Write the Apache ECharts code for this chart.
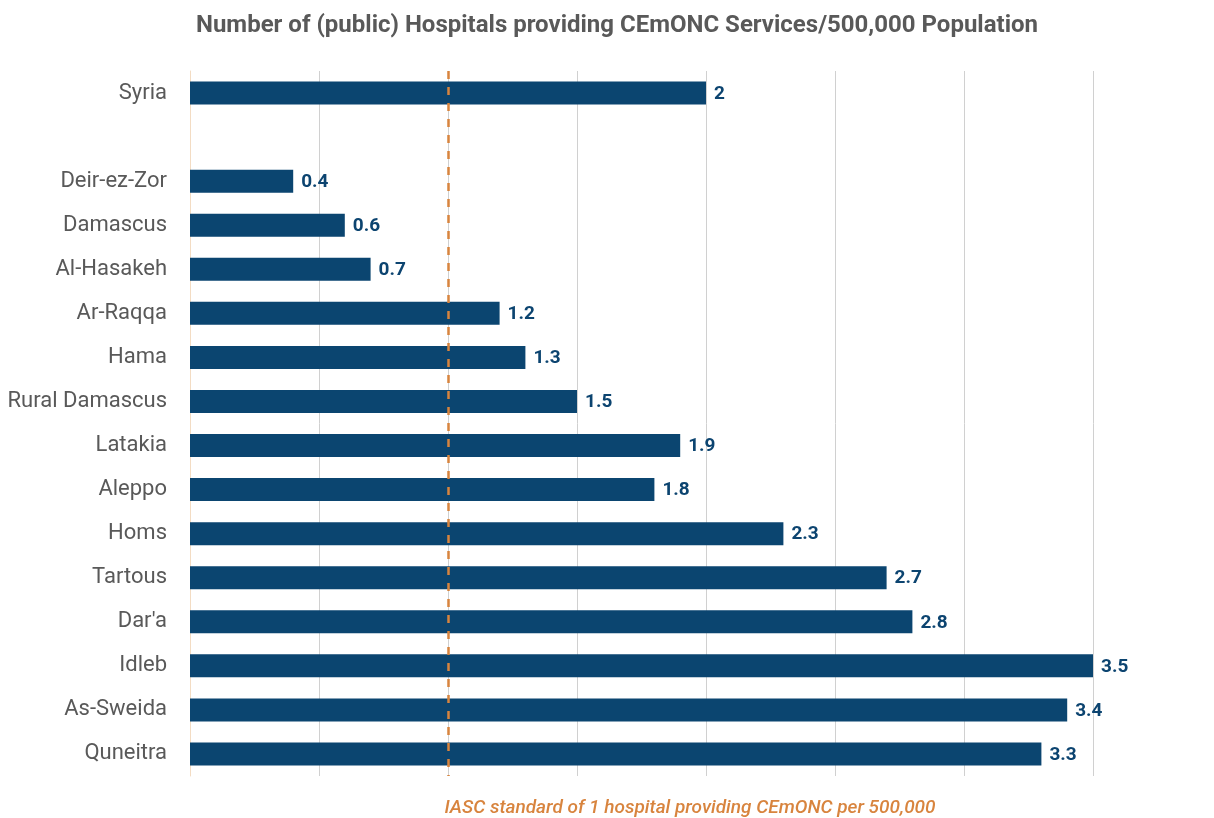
<!DOCTYPE html>
<html>
<head>
<meta charset="utf-8">
<script src="https://cdn.jsdelivr.net/npm/echarts@6/dist/echarts.min.js"></script>
<style>
html,body{margin:0;padding:0;background:#fff;}
#chart{width:1214px;height:818px;}
</style>
</head>
<body>
<div id="chart"></div>
<script>
var categories = ['Syria', '', 'Deir-ez-Zor', 'Damascus', 'Al-Hasakeh', 'Ar-Raqqa', 'Hama', 'Rural Damascus', 'Latakia', 'Aleppo', 'Homs', 'Tartous', "Dar'a", 'Idleb', 'As-Sweida', 'Quneitra'];
var values = [2, null, 0.4, 0.6, 0.7, 1.2, 1.3, 1.5, 1.9, 1.8, 2.3, 2.7, 2.8, 3.5, 3.4, 3.3];
var standard = 1;
var titleText = 'Number of (public) Hospitals providing CEmONC Services/500,000 Population';
var noteText = 'IASC standard of 1 hospital providing CEmONC per 500,000';

var chart = echarts.init(document.getElementById('chart'));
chart.setOption({
  animation: false,
  backgroundColor: '#ffffff',
  title: [{
    text: titleText,
    left: 612, top: 9, textAlign: 'center',
    textStyle: {fontFamily: 'Roboto', fontWeight: 'bold', fontSize: 24, color: '#595959'}
  }, {
    text: noteText,
    left: 685, top: 794, textAlign: 'center',
    textStyle: {fontFamily: 'Roboto', fontStyle: 'italic', fontWeight: 500, fontSize: 19, color: '#D8843E'}
  }],
  grid: {left: 190, right: 121, top: 71, bottom: 42, containLabel: false},
  xAxis: {
    type: 'value', min: 0, max: 3.5, interval: 0.5,
    axisLabel: {show: false}, axisTick: {show: false}, axisLine: {show: false},
    splitLine: {show: true, lineStyle: {color: '#D0D0D0', width: 1}}
  },
  yAxis: {
    type: 'category', data: categories, inverse: true,
    axisTick: {show: false},
    axisLine: {show: true, lineStyle: {color: '#F3DCC3', width: 1}},
    axisLabel: {fontFamily: 'Roboto', fontSize: 22, color: '#595959', margin: 23, padding: [3, 0, 0, 0]}
  },
  series: [{
    type: 'bar',
    data: values,
    barWidth: 23,
    itemStyle: {color: '#0B4570'},
    label: {
      show: true, position: 'right', distance: 8, offset: [0, 1],
      fontFamily: 'Roboto', fontWeight: 'bold', fontSize: 19, color: '#0C4470'
    },
    markLine: {
      silent: true, symbol: ['none', 'none'],
      label: {show: false},
      lineStyle: {color: '#D8843E', type: [8, 8], width: 2.5},
      data: [{xAxis: standard}]
    }
  }]
});
</script>
</body>
</html>
